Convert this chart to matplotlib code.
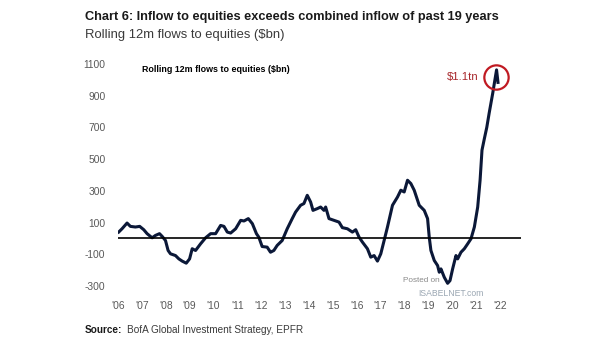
import matplotlib
matplotlib.use('Agg')
import matplotlib.pyplot as plt

plt.rcParams['axes.unicode_minus'] = False

# Rolling 12m flows to equities, $bn (year as decimal)
years = [2006.03, 2006.17, 2006.38, 2006.52, 2006.73, 2006.91, 2007.08, 2007.22, 2007.43, 2007.57,
         2007.74, 2007.85, 2007.99, 2008.1, 2008.2, 2008.41, 2008.55, 2008.69, 2008.86, 2009.0,
         2009.11, 2009.25, 2009.46, 2009.67, 2009.88, 2010.09, 2010.3, 2010.44, 2010.58, 2010.72,
         2010.93, 2011.14, 2011.28, 2011.46, 2011.63, 2011.8, 2011.9, 2012.04, 2012.25, 2012.39,
         2012.53, 2012.67, 2012.88, 2013.09, 2013.3, 2013.44, 2013.65, 2013.79, 2013.93, 2014.07,
         2014.17, 2014.35, 2014.49, 2014.63, 2014.7, 2014.84, 2015.05, 2015.26, 2015.4, 2015.61,
         2015.82, 2015.96, 2016.1, 2016.24, 2016.45, 2016.59, 2016.73, 2016.87, 2017.01, 2017.15,
         2017.29, 2017.5, 2017.71, 2017.85, 2017.99, 2018.13, 2018.27, 2018.41, 2018.62, 2018.83,
         2018.97, 2019.04, 2019.11, 2019.25, 2019.39, 2019.46, 2019.53, 2019.67, 2019.81, 2019.91,
         2020.02, 2020.16, 2020.23, 2020.37, 2020.51, 2020.65, 2020.79, 2020.93, 2021.07, 2021.17,
         2021.25, 2021.35, 2021.45, 2021.55, 2021.7, 2021.78, 2021.86, 2021.92]
flows = [40, 61, 97, 76, 72, 76, 55, 30, 4, 19,
         30, 13, -13, -76, -97, -108, -129, -143, -156, -129,
         -65, -76, -34, 4, 30, 30, 82, 76, 40, 34,
         61, 114, 110, 125, 93, 30, 8, -51, -55, -87,
         -76, -44, -13, 61, 125, 166, 209, 220, 272, 230,
         177, 188, 198, 177, 198, 125, 114, 103, 68, 61,
         40, 55, 8, -23, -65, -118, -108, -143, -97, -13,
         72, 209, 261, 304, 293, 367, 346, 304, 209, 177,
         125, 8, -76, -139, -171, -213, -192, -245, -283, -266,
         -192, -108, -129, -87, -65, -34, -2, 72, 198, 367,
         557, 630, 700, 790, 916, 990, 1063, 984]

peak_year = 2021.84
peak_value = 1020
peak_label = '$1.1tn'

tick_years = list(range(2006, 2023))
tick_labels = ["'%02d" % (y % 100) for y in tick_years]
y_ticks = [-300, -100, 100, 300, 500, 700, 900, 1100]

fig = plt.figure(figsize=(6.05, 3.41), dpi=100)
ax = fig.add_axes([0.195, 0.1613, 0.666, 0.651])

ax.plot(years, flows, color='#0b1838', linewidth=2.2, solid_joinstyle='round')
ax.axhline(0, color='black', linewidth=1.2)

ax.set_xlim(2006, 2022.88)
ax.set_ylim(-300, 1100)
ax.set_xticks(tick_years)
ax.set_xticklabels(tick_labels)
ax.set_yticks(y_ticks)
ax.tick_params(length=0, labelsize=7.4, colors='#595959', pad=9)
ax.tick_params(axis='x', pad=11)
for lbl in ax.get_xticklabels() + ax.get_yticklabels():
    lbl.set_family('Liberation Sans')
for spine in ax.spines.values():
    spine.set_visible(False)

renderer = fig.canvas.get_renderer()


def fit_width(t, px):
    # scale a text so that it spans px pixels
    w = t.get_window_extent(renderer).width
    t.set_fontsize(t.get_fontsize() * px / w)
    return t


inner = ax.text(142 / 605, 1 - 70 / 341, 'Rolling 12m flows to equities ($bn)',
                transform=fig.transFigure, fontsize=7, fontweight='bold',
                family='Liberation Sans', va='center')
fit_width(inner, 147)

# highlight the latest peak
ax.plot([peak_year], [peak_value], marker='o', markersize=17.5, markerfacecolor='none',
        markeredgecolor='#c01a22', markeredgewidth=1.6, clip_on=False)
ax.annotate(peak_label.replace('$', r'\$'), (peak_year, peak_value), xytext=(-13, 0),
            textcoords='offset points', ha='right', va='center', color='#a8282c',
            fontsize=8.2, family='Liberation Sans')

# watermark
wm1 = fig.text(403 / 605, 1 - 281 / 341, 'Posted on', fontsize=6, color='#8a8a8a',
               va='center', family='Liberation Sans')
fit_width(wm1, 37)
wm2 = fig.text(418 / 605, 1 - 293 / 341, 'ISABELNET.com', fontsize=7, color='#9aa6b2',
               va='center', family='Liberation Sans')
fit_width(wm2, 65)

fig.text(85 / 605, 1 - 17 / 341,
         'Chart 6: Inflow to equities exceeds combined inflow of past 19 years',
         fontsize=9.2, fontweight='bold', family='Liberation Sans', va='center',
         color='#1a1a1a')
fig.text(85 / 605, 1 - 35 / 341, 'Rolling 12m flows to equities ($bn)',
         fontsize=9.4, family='Liberation Sans', va='center', color='#3a3a3a')
src = fig.text(85 / 605, 1 - 330 / 341, 'Source:', fontsize=7.2, fontweight='bold',
               family='Liberation Sans', va='center', color='#1a1a1a')
src_end = src.get_window_extent(renderer).x1
fig.text((src_end + 5) / 605, 1 - 330 / 341, 'BofA Global Investment Strategy, EPFR',
         fontsize=7.2, family='Liberation Sans', va='center', color='#3a3a3a')

fig.savefig('out.png', dpi=100)
